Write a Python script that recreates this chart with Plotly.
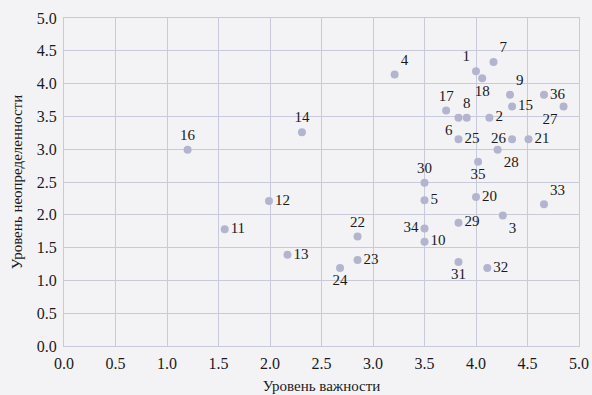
import plotly.graph_objects as go

labels = ["1","2","3","4","5","6","7","8","9","10","11","12","13","14","15","16","17","18",
          "20","21","22","23","24","25","26","27","28","29","30","31","32","33","34","35","36"]
importance = [4.00,4.13,4.26,3.21,3.50,3.83,4.17,3.91,4.33,3.50,1.56,1.99,2.17,2.31,4.35,1.20,3.71,4.06,
              4.00,4.51,2.85,2.85,2.68,3.83,4.35,4.85,4.21,3.83,3.50,3.83,4.11,4.66,3.50,4.02,4.66]
uncertainty = [4.19,3.48,1.99,4.14,2.22,3.48,4.33,3.48,3.83,1.59,1.78,2.21,1.39,3.26,3.65,2.99,3.59,4.08,
               2.27,3.15,1.67,1.31,1.19,3.15,3.15,3.65,2.99,1.88,2.49,1.28,1.19,2.16,1.79,2.81,3.83]
positions = ["top left","middle right","bottom right","top right","middle right","bottom left","top right",
             "top center","top right","middle right","middle right","middle right","middle right","top center",
             "middle right","top center","top center","bottom center","middle right","middle right","top center",
             "middle right","bottom center","middle right","middle left","bottom left","bottom right","middle right",
             "top center","bottom center","middle right","top right","middle left","bottom center","middle right"]

FONT = "Liberation Serif"
BG = "#f3f3f6"
fig = go.Figure(go.Scatter(
    x=importance, y=uncertainty, mode="markers+text", text=labels, textposition=positions,
    marker=dict(size=8, color="#b3b5cf"),
    textfont=dict(family=FONT, size=15, color="#1a1a1a"),
    cliponaxis=False, hoverinfo="skip"))

axis_common = dict(range=[0, 5], dtick=0.5, tickformat=".1f", showgrid=True, gridcolor="#c9c9dc",
                   gridwidth=1, showline=True, mirror=True, linecolor="#c9c9dc", linewidth=1,
                   zeroline=False, ticks="outside", ticklen=3, tickcolor="rgba(0,0,0,0)",
                   automargin=False,
                   tickfont=dict(family=FONT, size=16, color="#1a1a1a"))
fig.update_xaxes(**axis_common, title=dict(text="Уровень важности",
                 font=dict(family=FONT, size=15, color="#1a1a1a"), standoff=9))
fig.update_yaxes(**axis_common, title=dict(text="Уровень неопределенности",
                 font=dict(family=FONT, size=15, color="#1a1a1a"), standoff=10))
fig.update_layout(width=592, height=395, margin=dict(l=64, r=13, t=18, b=49),
                  paper_bgcolor=BG, plot_bgcolor=BG, showlegend=False)
fig.write_html("out.html", config={"displayModeBar": False},
               post_script="document.body.style.margin='0';document.body.style.background='%s';" % BG)
